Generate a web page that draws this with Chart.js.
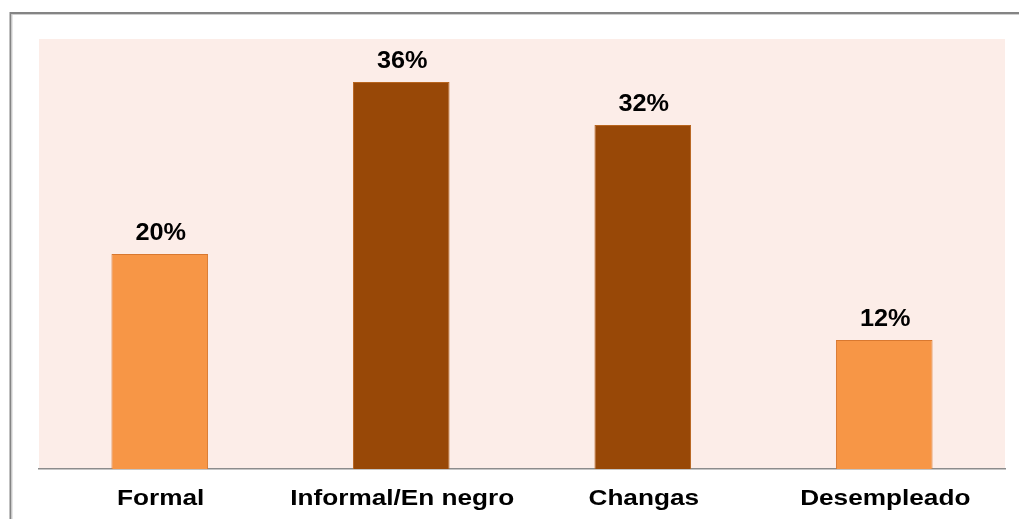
<!DOCTYPE html>
<html>
<head>
<meta charset="utf-8">
<script src="https://cdn.jsdelivr.net/npm/chart.js@4.4.1/dist/chart.umd.min.js"></script>
<style>
  html, body { margin: 0; padding: 0; background: #fff; }
  #wrap { width: 1019px; height: 519px; }
</style>
</head>
<body>
<div id="wrap"><canvas id="barChart" width="1019" height="519"></canvas></div>
<script>
// Datos
const categorias = ['Formal', 'Informal/En negro', 'Changas', 'Desempleado'];
const valores = [20, 36, 32, 12];
const coloresBarra = ['#F79646', '#984807', '#984807', '#F79646'];
const coloresBorde = ['#D9782F', '#B8651E', '#B8651E', '#D9782F'];

const fuente = '"Liberation Sans", Arial, sans-serif';

// Texto estirado en horizontal, como en el original
function textoAncho(ctx, txt, x, y, escala) {
    ctx.save();
    ctx.translate(x, y);
    ctx.scale(escala, 1);
    ctx.fillText(txt, 0, 0);
    ctx.restore();
}

// Marco exterior, fondo del área y etiquetas
const marcoPlugin = {
    id: 'marco',
    beforeDraw(chart) {
        const { ctx, chartArea } = chart;
        ctx.save();
        ctx.fillStyle = '#FCEDE8';
        ctx.fillRect(chartArea.left, chartArea.top, chartArea.right - chartArea.left, chartArea.bottom - chartArea.top);
        ctx.strokeStyle = '#848484';
        ctx.lineWidth = 2;
        ctx.beginPath();
        ctx.moveTo(10.5, 530);
        ctx.lineTo(10.5, 13);
        ctx.lineTo(1030, 13);
        ctx.stroke();
        ctx.strokeStyle = '#CFCFCF';
        ctx.lineWidth = 1;
        ctx.beginPath();
        ctx.moveTo(12, 530);
        ctx.lineTo(12, 14.5);
        ctx.lineTo(1030, 14.5);
        ctx.stroke();
        ctx.restore();
    },
    afterDatasetsDraw(chart) {
        const { ctx } = chart;
        const meta = chart.getDatasetMeta(0);
        const xScale = chart.scales.x;
        ctx.save();
        ctx.fillStyle = '#000';
        ctx.textAlign = 'center';
        ctx.textBaseline = 'alphabetic';
        ctx.font = 'bold 23px ' + fuente;
        meta.data.forEach((bar, i) => {
            textoAncho(ctx, valores[i] + '%', bar.x + 1, bar.y - 14, 1.1);
        });
        ctx.font = 'bold 22px ' + fuente;
        categorias.forEach((c, i) => {
            textoAncho(ctx, c, xScale.getPixelForValue(i) + 1, 505, 1.19);
        });
        ctx.restore();
    }
};

new Chart(document.getElementById('barChart'), {
    type: 'bar',
    data: {
        labels: categorias,
        datasets: [{
            data: valores,
            backgroundColor: coloresBarra,
            borderColor: coloresBorde,
            borderWidth: 1,
            barPercentage: 0.4,
            categoryPercentage: 1
        }]
    },
    options: {
        responsive: false,
        animation: false,
        layout: { padding: { top: 39, left: 39, right: 14, bottom: 0 } },
        plugins: { legend: { display: false }, tooltip: { enabled: false } },
        scales: {
            x: {
                grid: { display: false, drawTicks: false },
                border: { color: '#8C8C8C', width: 1.5 },
                ticks: {
                    color: 'rgba(0,0,0,0)',
                    padding: 15,
                    font: { family: fuente, size: 22, weight: 'bold' },
                    maxRotation: 0
                },
                afterFit(scale) { scale.height = 50; }
            },
            y: {
                display: false,
                min: 0,
                max: 40
            }
        }
    },
    plugins: [marcoPlugin]
});
</script>
</body>
</html>
